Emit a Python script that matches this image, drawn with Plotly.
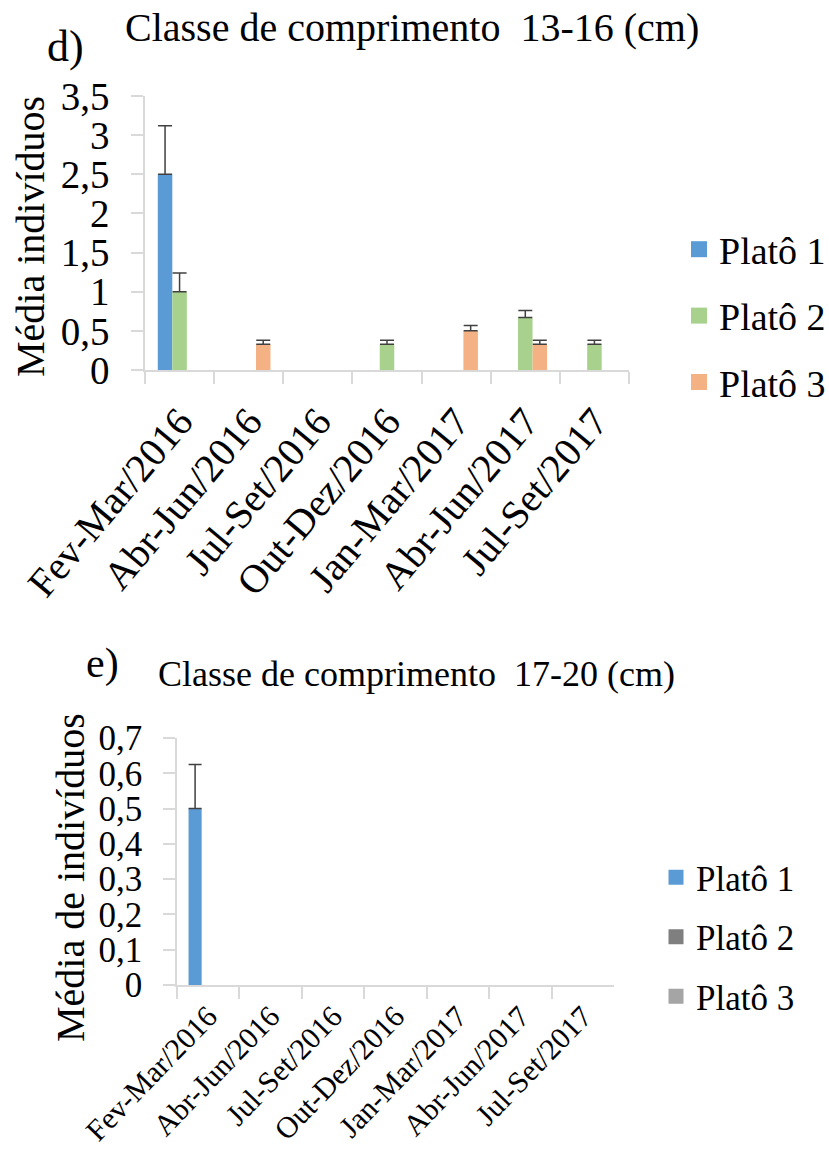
import plotly.graph_objects as go

# ---------------- data ----------------
categories = ["Fev-Mar/2016", "Abr-Jun/2016", "Jul-Set/2016", "Out-Dez/2016",
              "Jan-Mar/2017", "Abr-Jun/2017", "Jul-Set/2017"]
series_names = ["Platô 1", "Platô 2", "Platô 3"]

# d) Classe 13-16 cm
d_plato1 = [2.5, 0, 0, 0, 0, 0, 0]
d_plato2 = [1.0, 0, 0, 0.33, 0, 0.67, 0.33]
d_plato3 = [0, 0.33, 0, 0, 0.5, 0.33, 0]
d_err1 = [0.62, None, None, None, None, None, None]
d_err2 = [0.24, None, None, 0.05, None, 0.09, 0.05]
d_err3 = [None, 0.05, None, None, 0.07, 0.05, None]

# e) Classe 17-20 cm
e_plato1 = [0.5, 0, 0, 0, 0, 0, 0]
e_plato2 = [0, 0, 0, 0, 0, 0, 0]
e_plato3 = [0, 0, 0, 0, 0, 0, 0]
e_err1 = [0.125, None, None, None, None, None, None]

d_ticks = [0, 0.5, 1, 1.5, 2, 2.5, 3, 3.5]
e_ticks = [0, 0.1, 0.2, 0.3, 0.4, 0.5, 0.6, 0.7]

d_colors = ["#5B9BD5", "#A9D18E", "#F4B183"]
e_colors = ["#5B9BD5", "#7F7F7F", "#A5A5A5"]

FONT = "Liberation Serif, Times New Roman, DejaVu Serif, serif"
W, H = 829, 1149
AXC = "#D9D9D9"
ERRC = "#404040"


def px_x(p):
    return p / W


def px_y(p):
    return 1 - p / H


def nz(vals):
    # zero-height bars are not drawn in the reference
    return [v if v else None for v in vals]


fig = go.Figure()

d_vals = [d_plato1, d_plato2, d_plato3]
d_errs = [d_err1, d_err2, d_err3]
for name, vals, errs, col in zip(series_names, d_vals, d_errs, d_colors):
    fig.add_trace(go.Bar(
        x=categories, y=nz(vals), name=name, marker=dict(color=col, line=dict(width=0)),
        error_y=dict(type="data", array=errs, symmetric=False,
                     arrayminus=[0] * len(errs), color=ERRC, thickness=1.5, width=7),
        xaxis="x", yaxis="y", showlegend=False))
    fig.add_trace(go.Scatter(
        x=[None], y=[None], mode="markers", name=name,
        marker=dict(symbol="square", size=16, color=col),
        xaxis="x", yaxis="y", legend="legend", legendgroup="d" + name))

e_vals = [e_plato1, e_plato2, e_plato3]
e_errs = [e_err1, None, None]
for name, vals, errs, col in zip(series_names, e_vals, e_errs, e_colors):
    err = dict(type="data", array=errs, symmetric=False, arrayminus=[0] * 7,
               color=ERRC, thickness=1.5, width=6.5) if errs else dict(visible=False)
    fig.add_trace(go.Bar(
        x=categories, y=nz(vals), name=name, marker=dict(color=col, line=dict(width=0)),
        error_y=err, xaxis="x2", yaxis="y2", showlegend=False))
    fig.add_trace(go.Scatter(
        x=[None], y=[None], mode="markers", name=name,
        marker=dict(symbol="square", size=15, color=col),
        xaxis="x2", yaxis="y2", legend="legend2", legendgroup="e" + name))

xaxis_common = dict(
    type="category", showline=True, linecolor=AXC, linewidth=1.5,
    ticks="outside", tickson="boundaries", ticklen=12, tickcolor=AXC, tickwidth=1.5,
    showgrid=False, zeroline=False, automargin=False,
)
yaxis_common = dict(
    showline=True, linecolor=AXC, linewidth=1.5, ticks="outside", ticklen=12,
    tickcolor=AXC, tickwidth=1.5, showgrid=False, zeroline=False, automargin=False,
)


def ann(text, x, y, size, angle=0):
    return dict(text=text, x=px_x(x), y=px_y(y), xref="paper", yref="paper",
                xanchor="center", yanchor="middle", textangle=angle,
                showarrow=False, font=dict(size=size, family=FONT, color="#000"))


fig.update_layout(
    width=W, height=H, autosize=False,
    margin=dict(l=0, r=0, t=0, b=0, pad=0, autoexpand=False),
    paper_bgcolor="white", plot_bgcolor="white",
    separators=",.",
    barmode="group", bargap=0.37, bargroupgap=0,
    font=dict(family=FONT, color="#000000"),
    xaxis=dict(**xaxis_common, domain=[px_x(145), px_x(629)], anchor="y",
               tickangle=-50, ticklabelstandoff=10,
               tickfont=dict(size=40, family=FONT, color="#000")),
    yaxis=dict(**yaxis_common, domain=[px_y(370), px_y(96)], anchor="x",
               range=[0, 3.5], tickvals=d_ticks, ticklabelstandoff=14,
               tickfont=dict(size=39, family=FONT, color="#000")),
    xaxis2=dict(**xaxis_common, domain=[px_x(177), px_x(614)], anchor="y2",
                tickangle=-46, ticklabelstandoff=0,
                tickfont=dict(size=30, family=FONT, color="#000")),
    yaxis2=dict(**yaxis_common, domain=[px_y(985), px_y(738)], anchor="x2",
                range=[0, 0.7], tickvals=e_ticks, ticklabelstandoff=14,
                tickfont=dict(size=35, family=FONT, color="#000")),
    legend=dict(x=px_x(679), y=px_y(218), xanchor="left", yanchor="top",
                font=dict(size=38, family=FONT, color="#000"),
                tracegroupgap=14, itemwidth=30, bgcolor="rgba(0,0,0,0)"),
    legend2=dict(x=px_x(656), y=px_y(848), xanchor="left", yanchor="top",
                 font=dict(size=35, family=FONT, color="#000"),
                 tracegroupgap=11, itemwidth=30, bgcolor="rgba(0,0,0,0)"),
    annotations=[
        ann("d)", 65, 46, 44),
        ann("Classe de comprimento  13-16 (cm)", 412, 27, 40),
        ann("Média indivíduos", 30, 237, 40, -90),
        ann("e)", 102, 663, 42),
        ann("Classe de comprimento  17-20 (cm)", 416, 674, 36),
        ann("Média de indivíduos", 70, 878, 40, -90),
    ],
)

fig.write_html("out.html")
